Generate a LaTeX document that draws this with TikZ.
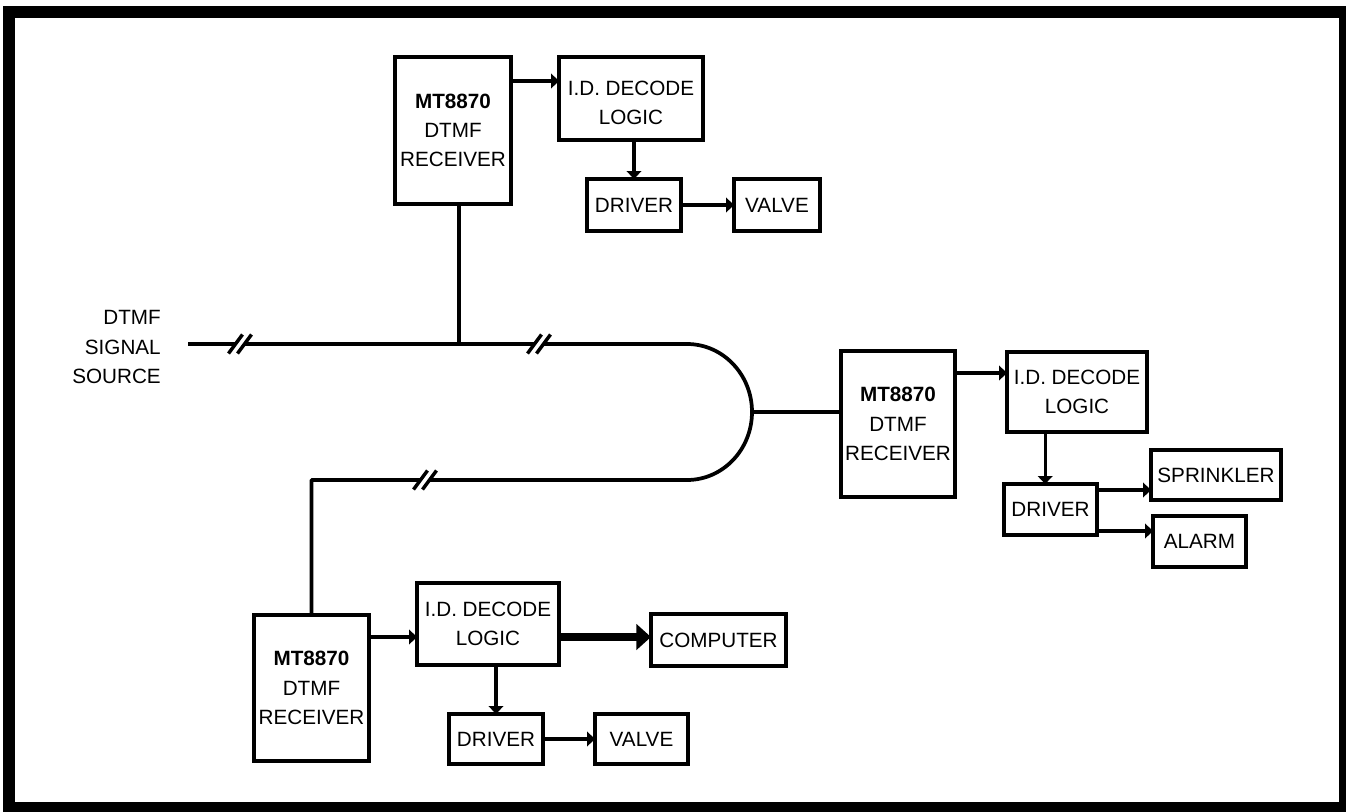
\documentclass[tikz,border=0pt]{standalone}
\usepackage{fontspec}
\setmainfont{Liberation Sans}
\usetikzlibrary{arrows.meta}
\tikzset{
  box/.style={draw, line width=3pt, inner sep=0pt, outer sep=0pt, align=center,
    font=\fontsize{15.5pt}{22pt}\selectfont},
  sz/.style 2 args={minimum width=#1*0.75pt, minimum height=#2*0.75pt},
  txt/.style={inner sep=0pt, align=center, font=\fontsize{15.5pt}{22pt}\selectfont},
  lbl/.style={inner sep=0pt, align=right, font=\fontsize{15.5pt}{22pt}\selectfont},
  bus/.style={line width=2.8pt, line join=round},
  arr/.style={line width=2.5pt, -{Triangle[length=6pt,width=11pt]}},
  fatarr/.style={line width=6pt, -{Triangle[length=11pt,width=19pt]}},
  brk/.pic={
    \fill[white] (-7.1,3.5) -- (1.9,3.5) -- (7.1,-3.5) -- (-1.9,-3.5) -- cycle;
    \draw[line width=2.6pt] (-11.5,9.5) -- (2.5,-9.5);
    \draw[line width=2.6pt] (-2.5,9.5) -- (11.5,-9.5);
  }
}
\begin{document}
\begin{tikzpicture}[x=0.75pt,y=-0.75pt]
\useasboundingbox (0,0) rectangle (1346,811);
\draw[line width=9pt] (9,12) rectangle (1345,808);

% top cluster
\node[box, sz={116}{147}] (rec1) at (453,130.5) {\textbf{MT8870}\\DTMF\\RECEIVER};
\node[box, sz={144}{83}] (dec1) at (631,98.5) {};
\node[txt] (dec1t) at ([yshift=-3.5pt]dec1.center) {I.D. DECODE\\LOGIC};
\node[box, sz={94}{52}] (drv1) at (634,205) {DRIVER};
\node[box, sz={86}{52}] (val1) at (777,205) {VALVE};

% right cluster
\node[box, sz={114}{146}] (rec2) at (898,424) {\textbf{MT8870}\\DTMF\\RECEIVER};
\node[box, sz={140}{80}] (dec2) at (1077,392) {I.D. DECODE\\LOGIC};
\node[box, sz={93}{51}] (drv2) at (1050.5,509.5) {DRIVER};
\node[box, sz={130}{50}] (spr) at (1216,475) {SPRINKLER};
\node[box, sz={93}{51}] (alarm) at (1199.5,541.5) {ALARM};

% bottom cluster
\node[box, sz={115}{146}] (rec3) at (311.5,688) {\textbf{MT8870}\\DTMF\\RECEIVER};
\node[box, sz={142}{82}] (dec3) at (488,624) {I.D. DECODE\\LOGIC};
\node[box, sz={135}{52}] (comp) at (718.5,640) {COMPUTER};
\node[box, sz={94}{50}] (drv3) at (496,739) {DRIVER};
\node[box, sz={93}{50}] (val3) at (641.5,739) {VALVE};

% source label
\node[lbl, anchor=east] (src) at (161,347) {DTMF\\SIGNAL\\SOURCE};

% helper coordinates
\coordinate (s0) at (188,344);
\coordinate (j1) at (459,344);
\coordinate (c0) at (687,344);
\coordinate (cr) at (752,412);
\coordinate (b0) at (311,480);
\coordinate (ya) at (0,81);
\coordinate (yb) at (0,373);
\coordinate (yc) at (0,490);
\coordinate (yd) at (0,531);
\coordinate (ye) at (0,637);

% bus
\draw[bus] (s0) -- (c0) arc[start angle=90, end angle=-90, x radius=48.75pt, y radius=51pt]
  -- (rec3.north |- b0) -- (rec3.north);
\draw[bus] (rec1.south -| j1) -- (j1);
\draw[bus] (cr) -- (cr -| rec2.west);
\pic at (240,344) {brk};
\pic at (539,344) {brk};
\pic at (425,480) {brk};

% top arrows
\draw[arr] (rec1.east |- ya) -- (dec1.west |- ya);
\draw[arr] (dec1.south -| drv1.north) -- (drv1.north);
\draw[arr] (drv1.east) -- (val1.west);

% right arrows
\draw[arr] (rec2.east |- yb) -- (dec2.west |- yb);
\draw[arr] ([xshift=-4pt]dec2.south -| drv2.north) -- ([xshift=-4pt]drv2.north);
\draw[arr] (drv2.east |- yc) -- (spr.west |- yc);
\draw[arr] (drv2.east |- yd) -- (alarm.west |- yd);

% bottom arrows
\draw[arr] (rec3.east |- ye) -- (dec3.west |- ye);
\draw[fatarr] (dec3.east |- ye) -- (comp.west |- ye);
\draw[arr] (dec3.south -| drv3.north) -- (drv3.north);
\draw[arr] (drv3.east) -- (val3.west);
\end{tikzpicture}
\end{document}
